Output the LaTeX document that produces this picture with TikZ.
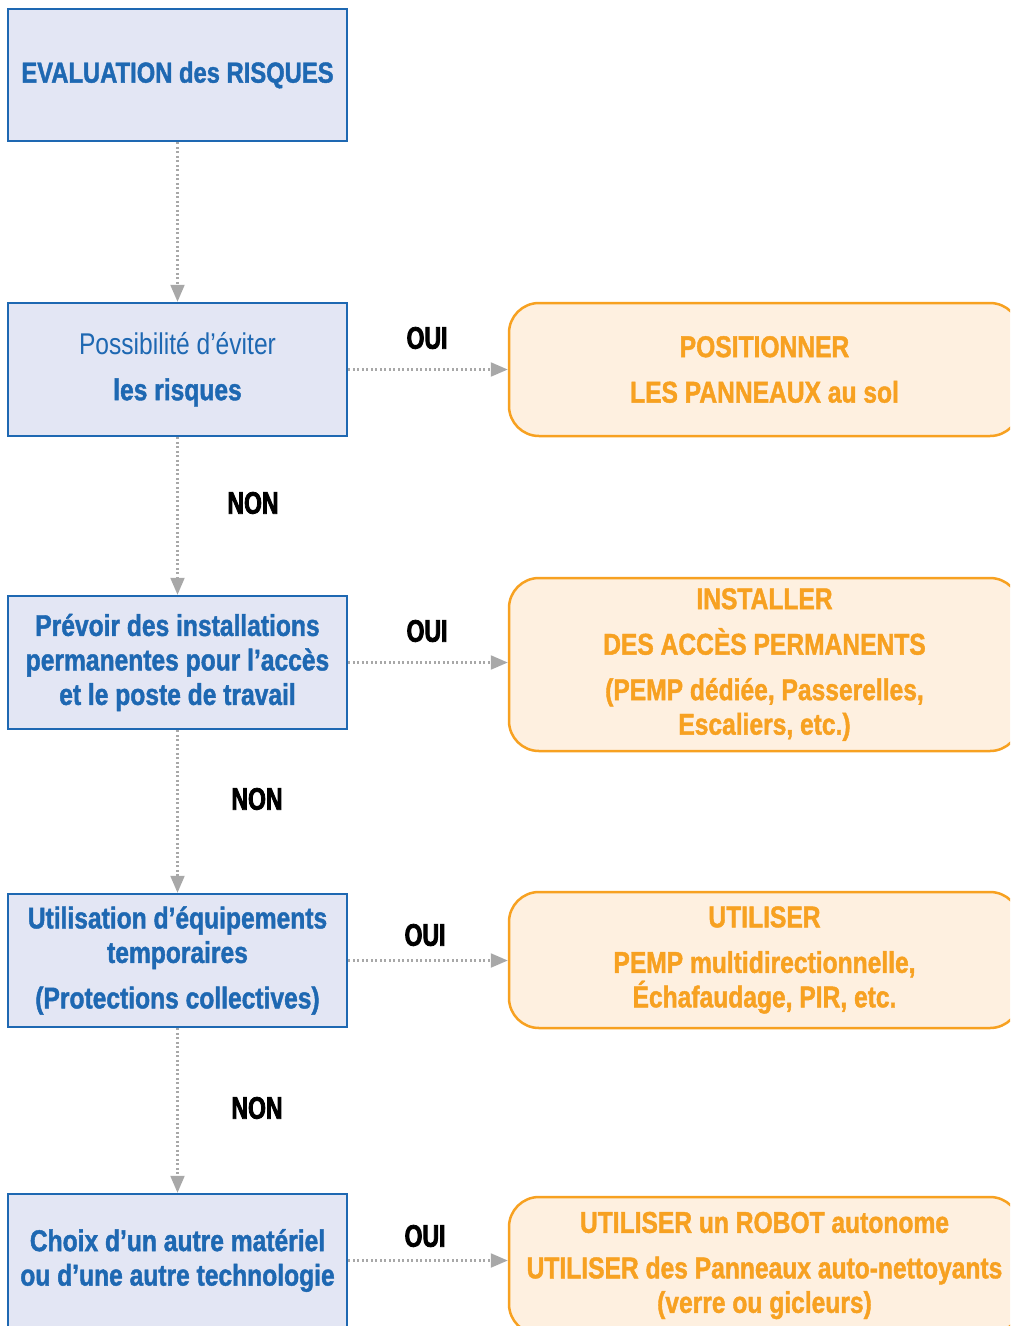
\documentclass[tikz,border=0pt]{standalone}
\usepackage{fontspec}
\setmainfont{Liberation Sans}[FakeStretch=0.82, BoldFeatures={FakeBold=1.4}]
\newfontfamily\heavyfont{Liberation Sans}[FakeStretch=0.74, BoldFeatures={FakeBold=2.6}]
\usetikzlibrary{arrows.meta}
\definecolor{bl}{RGB}{30,104,178}
\definecolor{blfill}{RGB}{227,230,244}
\definecolor{orl}{RGB}{247,161,33}
\definecolor{orfill}{RGB}{254,240,224}
\definecolor{conn}{RGB}{168,168,168}
\begin{document}
\begin{tikzpicture}[x=1pt,y=-1pt,
  bbox/.style={draw=bl, line width=2.5pt, fill=blfill, text=bl,
    font=\fontsize{30}{34.5}\selectfont\bfseries, minimum width=339pt,
    minimum height=132pt, inner sep=0pt, align=center},
  obox/.style={draw=orl, line width=2.5pt, fill=orfill, text=orl,
    rounded corners=30pt, font=\fontsize{30}{34.5}\selectfont\bfseries,
    minimum width=511pt, inner sep=0pt, align=center},
  lab/.style={font=\fontsize{31}{34}\heavyfont\bfseries, text=black},
  arr/.style={draw=conn, line width=2.2pt, dash pattern=on 2pt off 2.5pt,
    -{Triangle[width=14pt,length=17pt,fill=conn]}, shorten >=0pt}]
\useasboundingbox (0,0) rectangle (1010,1326);
\clip (0,0) rectangle (1010,1326);
% left column
\node[bbox, font=\fontsize{29}{34.5}\selectfont\bfseries] (b1) at (177.5,75) {EVALUATION des RISQUES};
\node[bbox, minimum height=133pt] (b2) at (177.5,369.5) {{\mdseries Possibilité d’éviter}\\[11pt]les risques};
\node[bbox, minimum height=133pt] (b3) at (177.5,662.5) {Prévoir des installations\\permanentes pour l’accès\\et le poste de travail};
\node[bbox, minimum height=133pt] (b4) at (177.5,960.5) {Utilisation d’équipements\\temporaires\\[11pt](Protections collectives)};
\node[bbox, minimum height=133pt] (b5) at (177.5,1260.5) {Choix d’un autre matériel\\ou d’une autre technologie};
% right column
\node[obox, minimum height=133pt] (o1) at (764.5,369.5) {POSITIONNER\\[11pt]LES PANNEAUX au sol};
\node[obox, minimum height=173pt] (o2) at (764.5,664.5) {INSTALLER\\[11pt]DES ACCÈS PERMANENTS\\[11pt](PEMP dédiée, Passerelles,\\Escaliers, etc.)};
\node[obox, minimum height=136pt] (o3) at (764.5,960) {UTILISER\\[11pt]PEMP multidirectionnelle,\\Échafaudage, PIR, etc.};
\node[obox, minimum height=137pt] (o4) at (764.5,1265.5) {UTILISER un ROBOT autonome\\[11pt]UTILISER des Panneaux auto-nettoyants\\(verre ou gicleurs)};
% connectors
\draw[arr] (b1.south) -- (b2.north);
\draw[arr] (b2.south) -- (b3.north);
\draw[arr] (b3.south) -- (b4.north);
\draw[arr] (b4.south) -- (b5.north);
\draw[arr] (b2.east) -- (o1.west);
\draw[arr] (b3.east) -- (b3.east -| o2.west);
\draw[arr] (b4.east) -- (b4.east -| o3.west);
\draw[arr] (b5.east) -- (b5.east -| o4.west);
% labels
\node[lab] (oui1) at (427,338) {OUI};
\node[lab] (oui2) at (427,631) {OUI};
\node[lab] (oui3) at (425,935) {OUI};
\node[lab] (oui4) at (425,1236) {OUI};
\node[lab] (non1) at (253,503) {NON};
\node[lab] (non2) at (257,799) {NON};
\node[lab] (non3) at (257,1108) {NON};
\end{tikzpicture}
\end{document}
